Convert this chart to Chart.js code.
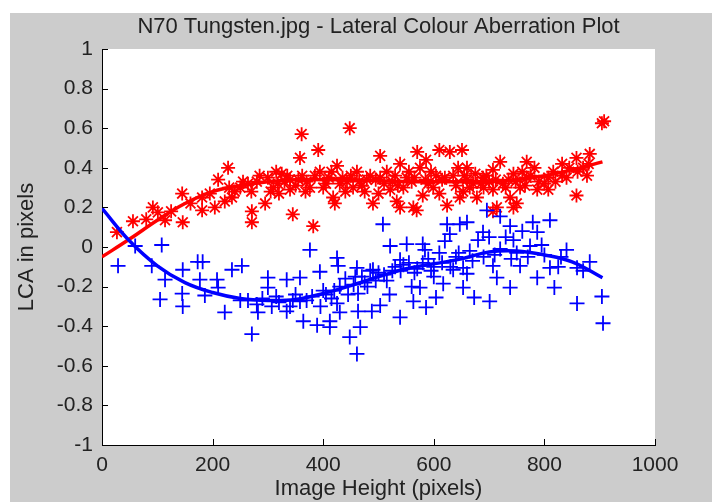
<!DOCTYPE html>
<html>
<head>
<meta charset="utf-8">
<title>N70 Tungsten.jpg - Lateral Colour Aberration Plot</title>
<script src="https://cdn.jsdelivr.net/npm/chart.js@4.4.1/dist/chart.umd.min.js"></script>
<style>
    html, body { margin: 0; padding: 0; background: #ffffff; }
    #lca-chart { display: block; }
</style>
</head>
<body>
<canvas id="lca-chart" width="713" height="502"></canvas>
<script>
// red channel (stars)
const redX = [27, 56, 80, 92, 101, 114, 125, 146, 145, 160, 181, 181, 195, 204, 210, 222, 228, 230, 235, 250,
    264, 270, 271, 271, 280, 295, 300, 310, 318, 320, 325, 330, 340, 340, 345, 350, 358, 361, 362, 370,
    376, 382, 391, 394, 400, 410, 418, 421, 425, 430, 440, 443, 448, 454, 461, 470, 479, 490, 500, 503,
    503, 510, 521, 530, 533, 539, 539, 545, 551, 560, 563, 569, 570, 575, 580, 586, 590, 599, 604, 610,
    610, 615, 624, 629, 640, 644, 647, 651, 653, 660, 660, 671, 678, 689, 690, 700, 707, 707, 707, 714,
    720, 725, 735, 738, 744, 744, 750, 756, 760, 768, 768, 782, 787, 790, 807, 807, 816, 832, 832, 845,
    858, 858, 860, 877, 880, 882, 904, 908,
    240, 255, 285, 305, 315, 335, 355, 368, 385, 405, 415, 435, 450, 465, 475, 485, 495, 515, 525, 535,
    555, 565, 585, 595, 620, 635, 655, 665, 675, 685, 695, 712, 730, 748, 765, 775, 800, 820, 840, 870];
const redY = [0.075, 0.13, 0.14, 0.2, 0.175, 0.135, 0.18, 0.125, 0.27, 0.22, 0.25, 0.185, 0.27, 0.2, 0.34, 0.23, 0.4, 0.3, 0.25, 0.3,
    0.32, 0.28, 0.18, 0.125, 0.33, 0.22, 0.35, 0.3, 0.32, 0.27, 0.37, 0.33, 0.34, 0.29, 0.165, 0.31, 0.45, 0.57, 0.36, 0.33,
    0.3, 0.105, 0.49, 0.38, 0.3, 0.35, 0.25, 0.22, 0.41, 0.32, 0.28, 0.33, 0.6, 0.3, 0.38, 0.31, 0.34, 0.22, 0.27, 0.46,
    0.35, 0.32, 0.29, 0.36, 0.23, 0.42, 0.2, 0.3, 0.35, 0.33, 0.2, 0.185, 0.48, 0.4, 0.26, 0.44, 0.32, 0.3, 0.36, 0.27,
    0.49, 0.34, 0.21, 0.48, 0.31, 0.4, 0.25, 0.49, 0.28, 0.34, 0.4, 0.32, 0.25, 0.35, 0.3, 0.33, 0.39, 0.29, 0.18, 0.2,
    0.43, 0.32, 0.34, 0.25, 0.37, 0.2, 0.22, 0.3, 0.38, 0.43, 0.35, 0.4, 0.29, 0.33, 0.29, 0.35, 0.38, 0.42, 0.36, 0.4,
    0.45, 0.26, 0.38, 0.36, 0.42, 0.47, 0.625, 0.635,
    0.28, 0.33, 0.36, 0.28, 0.38, 0.36, 0.34, 0.28, 0.36, 0.32, 0.38, 0.35, 0.36, 0.33, 0.28, 0.36, 0.34, 0.38, 0.33, 0.31,
    0.38, 0.35, 0.34, 0.38, 0.35, 0.36, 0.36, 0.3, 0.37, 0.32, 0.36, 0.34, 0.3, 0.33, 0.31, 0.36, 0.32, 0.33, 0.35, 0.4];

// blue channel (crosses)
const blueX = [29, 60, 90, 105, 108, 114, 145, 146, 146, 173, 177, 182, 186, 208, 210, 222, 235, 250, 253, 264,
    271, 280, 282, 290, 300, 300, 307, 320, 334, 334, 340, 350, 358, 358, 364, 370, 376, 389, 394, 395,
    400, 412, 412, 415, 425, 425, 427, 430, 430, 440, 448, 455, 461, 461, 463, 463, 467, 470, 480, 488,
    490, 500, 503, 508, 515, 520, 521, 530, 539, 539, 540, 551, 555, 560, 563, 570, 575, 580, 584, 586,
    590, 600, 600, 604, 610, 617, 620, 624, 629, 635, 640, 647, 653, 653, 660, 660, 665, 673, 680, 689,
    690, 696, 700, 701, 707, 714, 720, 720, 730, 738, 738, 744, 750, 756, 760, 774, 779, 787, 787, 800,
    810, 810, 818, 830, 840, 859, 859, 870, 882, 904, 906,
    315, 345, 380, 405, 420, 445, 458, 475, 485, 495, 510, 525, 545, 565, 580, 595, 615, 630, 645, 670,
    710, 740, 770, 795, 825];
const blueY = [-0.095, 0.005, -0.095, -0.265, 0.01, -0.165, -0.235, -0.115, -0.3, -0.075, -0.165, -0.075, -0.245, -0.165, -0.205, -0.33, -0.115, -0.27, -0.095, -0.27,
    -0.44, -0.29, -0.33, -0.26, -0.155, -0.205, -0.3, -0.28, -0.165, -0.325, -0.3, -0.24, -0.155, -0.275, -0.375, -0.27, -0.015, -0.395, -0.125, -0.3,
    -0.22, -0.405, -0.375, -0.26, -0.055, -0.285, -0.095, -0.2, -0.33, -0.16, -0.455, -0.19, -0.105, -0.54, -0.325, -0.235, -0.405, -0.15, -0.2, -0.325,
    -0.115, -0.13, -0.295, 0.115, -0.17, -0.24, 0.005, -0.1, -0.355, -0.065, -0.12, 0.015, -0.08, -0.2, -0.275, -0.11, -0.205, 0.015, -0.015, -0.305,
    -0.06, -0.1, -0.15, -0.255, -0.03, -0.185, 0.03, 0.115, 0.065, -0.115, -0.05, 0.115, -0.205, -0.105, 0.125, -0.135, -0.02, -0.255, 0.035, 0.075,
    -0.05, 0.185, 0.05, -0.275, -0.095, -0.155, 0.155, -0.01, 0.05, 0.105, -0.205, 0.035, -0.03, -0.095, 0.08, 0.005, 0.125, 0.075, -0.155, -0.04,
    0.135, -0.105, -0.205, -0.05, -0.015, -0.105, -0.285, -0.12, -0.075, -0.25, -0.385,
    -0.25, -0.27, -0.25, -0.24, -0.22, -0.24, -0.15, -0.18, -0.12, -0.17, -0.14, -0.12, -0.09, -0.13, -0.08, -0.12, -0.08, -0.1, -0.03, -0.07,
    -0.04, -0.06, -0.05, 0.01, -0.1];

// fitted curves
const fitX = [0, 50, 100, 150, 200, 250, 300, 350, 400, 450, 500, 550, 600, 650, 700, 750, 800, 850, 905];
const redFit = [-0.05, 0.04, 0.135, 0.22, 0.28, 0.31, 0.33, 0.34, 0.34, 0.34, 0.335, 0.33, 0.33, 0.33, 0.33, 0.34, 0.36, 0.39, 0.43];
const blueFit = [0.195, 0.03, -0.095, -0.18, -0.23, -0.26, -0.27, -0.265, -0.235, -0.195, -0.15, -0.11, -0.085, -0.06, -0.025, -0.02, -0.04, -0.075, -0.155];

// axes
const xTicks = [0, 200, 400, 600, 800, 1000];
const xTickLabels = ["0", "200", "400", "600", "800", "1000"];
const yTicks = [-1, -0.8, -0.6, -0.4, -0.2, 0, 0.2, 0.4, 0.6, 0.8, 1];
const yTickLabels = ["-1", "-0.8", "-0.6", "-0.4", "-0.2", "0", "0.2", "0.4", "0.6", "0.8", "1"];

const fontFamily = "'Liberation Sans', Arial, sans-serif";
const textColour = "#222222";

const toPoints = (xs, ys) => xs.map((x, i) => ({x: x, y: ys[i]}));

// grey figure + white axes box, like a matlab figure window
const figureBackground = {
    id: "figureBackground",
    beforeDraw(chart) {
        const ctx = chart.ctx;
        const area = chart.chartArea;
        ctx.save();
        ctx.fillStyle = "#cccccc";
        ctx.fillRect(10, 13, chart.width - 11, chart.height - 13);
        ctx.fillStyle = "#ffffff";
        ctx.fillRect(area.left, area.top, area.right - area.left, area.bottom - area.top);
        ctx.restore();
    }
};

// tick marks point into the plot
const inwardTicks = {
    id: "inwardTicks",
    afterDraw(chart) {
        const ctx = chart.ctx;
        const area = chart.chartArea;
        const len = 6;
        ctx.save();
        ctx.strokeStyle = "#000000";
        ctx.lineWidth = 1;
        ctx.beginPath();
        chart.scales.x.ticks.forEach(t => {
            const px = Math.round(chart.scales.x.getPixelForValue(t.value)) + 0.5;
            ctx.moveTo(px, area.bottom);
            ctx.lineTo(px, area.bottom - len);
        });
        chart.scales.y.ticks.forEach(t => {
            const py = Math.round(chart.scales.y.getPixelForValue(t.value)) + 0.5;
            ctx.moveTo(area.left, py);
            ctx.lineTo(area.left + len, py);
        });
        ctx.stroke();
        ctx.restore();
    }
};

new Chart(document.getElementById("lca-chart"), {
    type: "scatter",
    data: {
        datasets: [{
            label: "red fit",
            data: toPoints(fitX, redFit),
            showLine: true,
            borderColor: "#ff0000",
            borderWidth: 3.5,
            pointRadius: 0,
            tension: 0.4,
            order: 2
        }, {
            label: "red",
            data: toPoints(redX, redY),
            pointStyle: "star",
            pointRadius: 7,
            borderColor: "#ff0000",
            backgroundColor: "#ff0000",
            pointBorderWidth: 1.8,
            order: 3
        }, {
            label: "blue fit",
            data: toPoints(fitX, blueFit),
            showLine: true,
            borderColor: "#0000ff",
            borderWidth: 3.5,
            pointRadius: 0,
            tension: 0.4,
            order: 0
        }, {
            label: "blue",
            data: toPoints(blueX, blueY),
            pointStyle: "cross",
            pointRadius: 7.5,
            borderColor: "#0000ff",
            backgroundColor: "#0000ff",
            pointBorderWidth: 1.8,
            order: 1
        }]
    },
    options: {
        responsive: false,
        animation: false,
        devicePixelRatio: 1,
        layout: {
            padding: {left: 10, right: 58, top: 0, bottom: 0}
        },
        plugins: {
            legend: {display: false},
            tooltip: {enabled: false},
            title: {
                display: true,
                fullSize: false,
                text: "N70 Tungsten.jpg - Lateral Colour Aberration Plot",
                color: textColour,
                font: {family: fontFamily, size: 22, weight: "normal"},
                padding: {top: 14, bottom: 8.6}
            }
        },
        scales: {
            x: {
                type: "linear",
                min: 0,
                max: 1000,
                afterBuildTicks: scale => { scale.ticks = xTicks.map(v => ({value: v})); },
                afterFit: scale => { scale.height = 57; },
                grid: {drawOnChartArea: false, drawTicks: false},
                border: {display: true, color: "#000000", width: 1},
                ticks: {
                    color: textColour,
                    font: {family: fontFamily, size: 21},
                    padding: 8,
                    maxRotation: 0,
                    callback: (value, index) => xTickLabels[index]
                },
                title: {
                    display: true,
                    text: "Image Height (pixels)",
                    color: textColour,
                    font: {family: fontFamily, size: 22},
                    padding: {top: 0, bottom: 0}
                }
            },
            y: {
                type: "linear",
                min: -1,
                max: 1,
                afterBuildTicks: scale => { scale.ticks = yTicks.map(v => ({value: v})); },
                afterFit: scale => { scale.width = 92; },
                grid: {drawOnChartArea: false, drawTicks: false},
                border: {display: true, color: "#000000", width: 1},
                ticks: {
                    color: textColour,
                    font: {family: fontFamily, size: 21},
                    padding: 9,
                    callback: (value, index) => yTickLabels[index]
                },
                title: {
                    display: true,
                    text: "LCA in pixels",
                    color: textColour,
                    font: {family: fontFamily, size: 22},
                    padding: {top: 4, bottom: 0}
                }
            }
        }
    },
    plugins: [figureBackground, inwardTicks]
});
</script>
</body>
</html>
